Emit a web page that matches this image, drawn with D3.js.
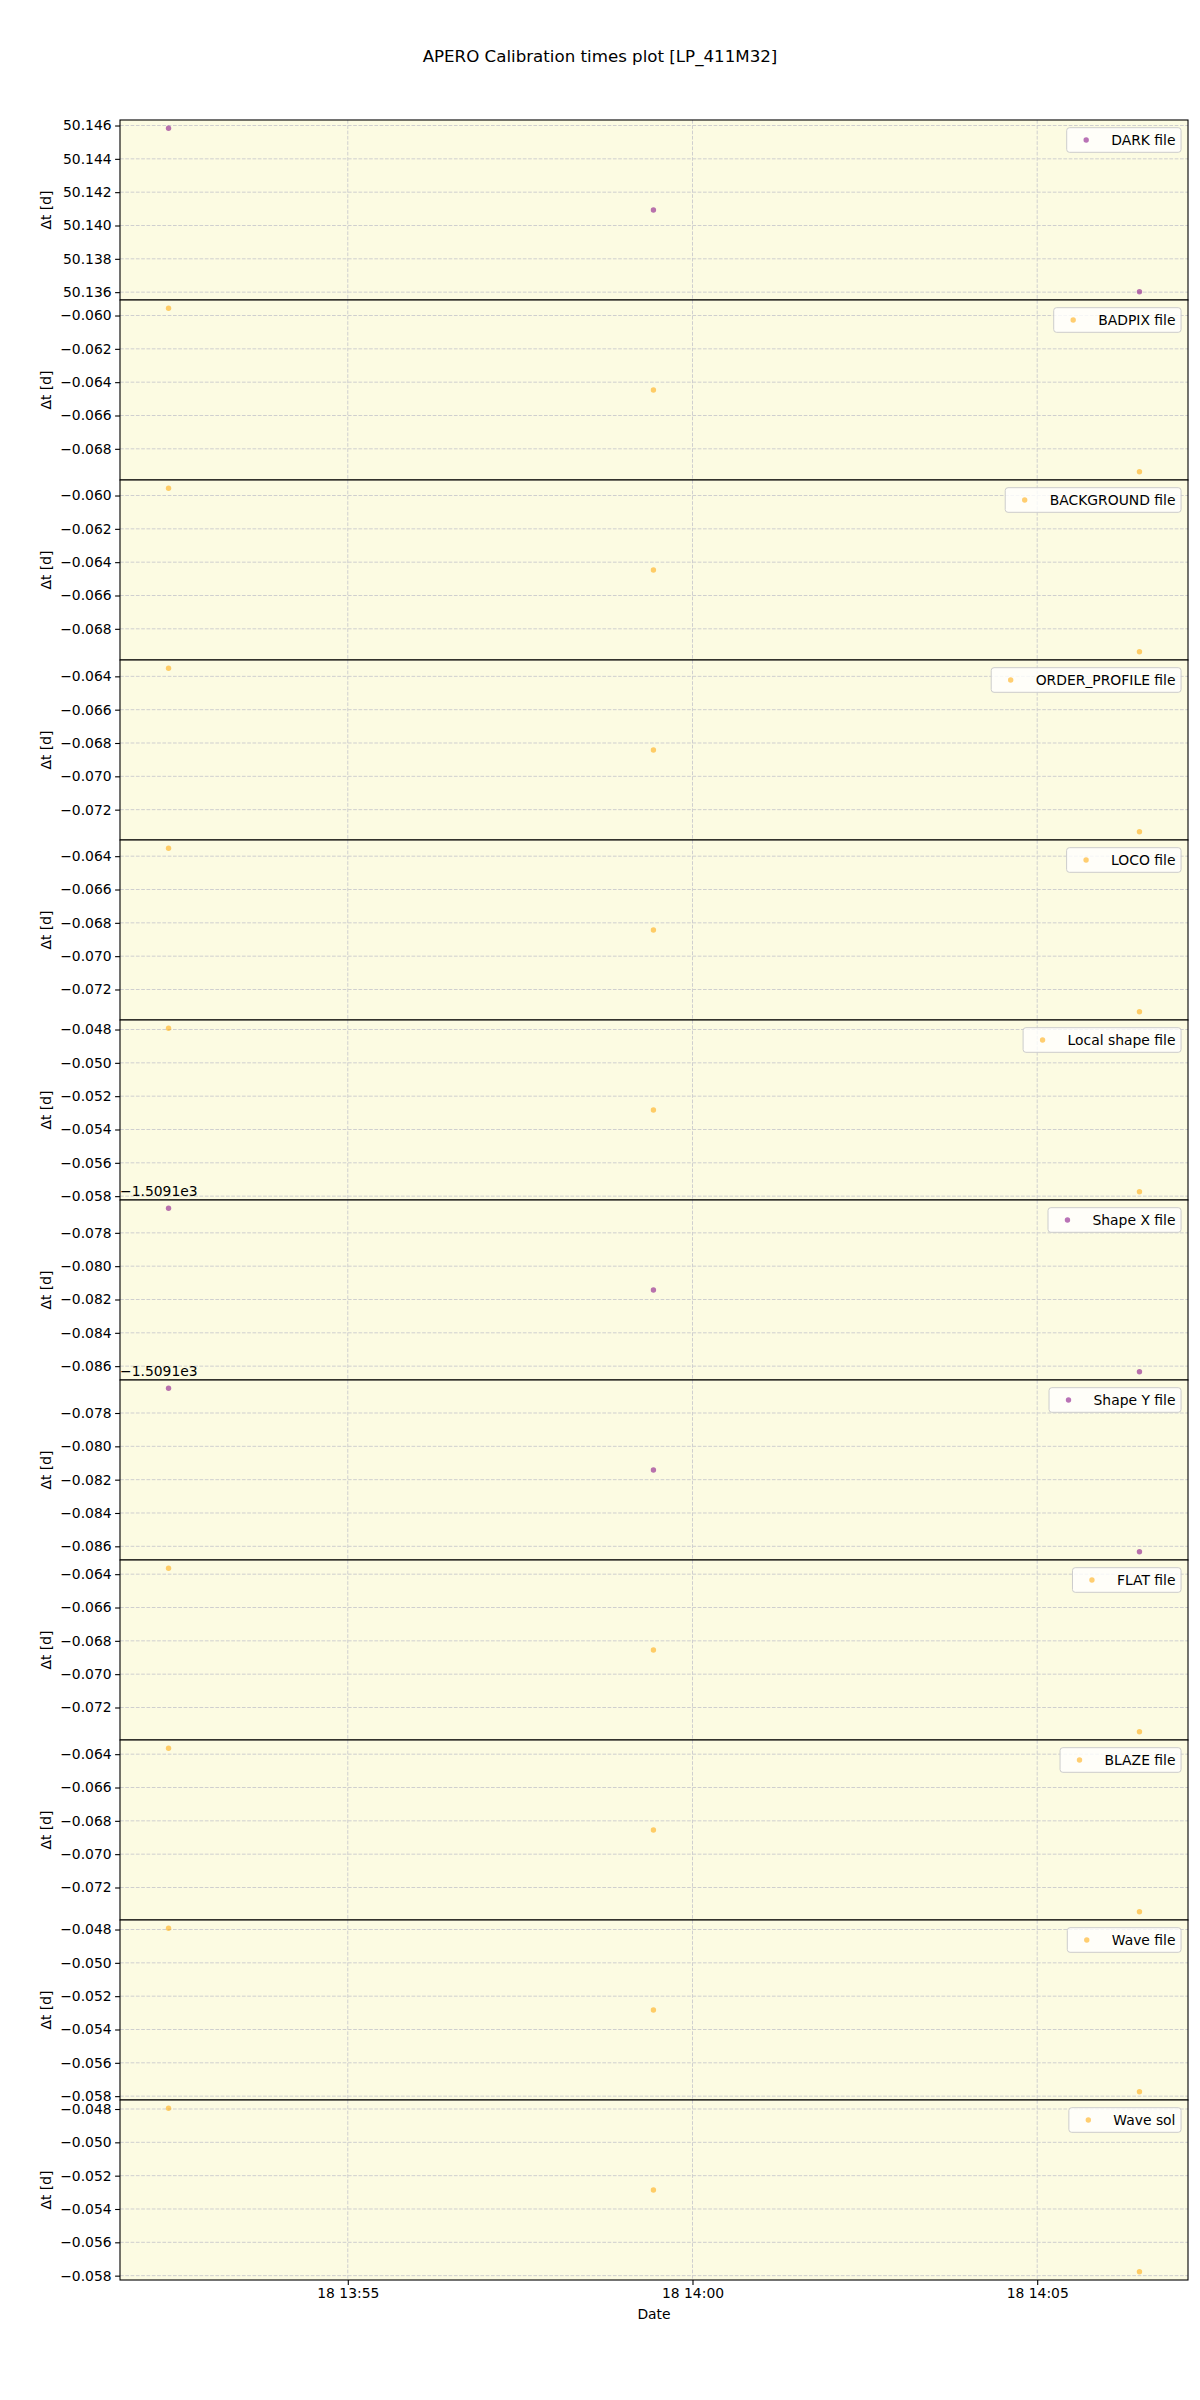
<!DOCTYPE html>
<html><head><meta charset="utf-8">
<script src="https://cdn.jsdelivr.net/npm/d3@7"></script>
<style>
body{margin:0;background:#fff}
text{font-family:"DejaVu Sans",sans-serif}
</style>
</head><body>
<svg id="c" width="1200" height="2400"></svg>
<script>
// ---------- data ----------
const obsTimes = ["2022-05-18T13:52:24Z", "2022-05-18T13:59:26Z", "2022-05-18T14:06:29Z"];
const fileNames = ["DARK file", "BADPIX file", "BACKGROUND file", "ORDER_PROFILE file", "LOCO file",
  "Local shape file", "Shape X file", "Shape Y file", "FLAT file", "BLAZE file", "Wave file", "Wave sol"];
const markerColors = ["purple", "orange", "orange", "orange", "orange", "orange",
  "purple", "purple", "orange", "orange", "orange", "orange"];
const darkDt       = [50.14584, 50.14093, 50.13602];
const badpixDt     = [-0.05956, -0.06447, -0.06938];
const backgroundDt = [-0.05956, -0.06447, -0.06938];
const orderProfDt  = [-0.06351, -0.06842, -0.07333];
const locoDt       = [-0.06352, -0.06843, -0.07334];
const localShapeDt = [-0.04792, -0.05283, -0.05774];
const shapeXDt     = [-1509.17652, -1509.18143, -1509.18634];
const shapeYDt     = [-1509.17651, -1509.18142, -1509.18633];
const flatDt       = [-0.06364, -0.06855, -0.07346];
const blazeDt      = [-0.06364, -0.06855, -0.07346];
const waveFileDt   = [-0.04792, -0.05283, -0.05774];
const waveSolDt    = [-0.04795, -0.05286, -0.05777];
const seriesDt = [darkDt, badpixDt, backgroundDt, orderProfDt, locoDt, localShapeDt,
  shapeXDt, shapeYDt, flatDt, blazeDt, waveFileDt, waveSolDt];
const axisOffsets = [0, 0, 0, 0, 0, 0, -1509.1, -1509.1, 0, 0, 0, 0];
const offsetLabels = ["", "", "", "", "", "", "\u22121.5091e3", "\u22121.5091e3", "", "", "", ""];
const titleText = "APERO Calibration times plot [LP_411M32]";
const yLabelText = "\u0394t [d]";
const xLabelText = "Date";

// ---------- layout ----------
const W = 1200;
const plotLeft = 120, plotRight = 1188, plotTop = 120, panelH = 180;
const fs = 13.9;
const bg = "#fcfbe2";
const gridColor = "#cfcfcf";

const svg = d3.select("#c");
const times = obsTimes.map(t => new Date(t));

const tExt = d3.extent(times);
const tPad = (tExt[1] - tExt[0]) * 0.05;
const x = d3.scaleUtc()
  .domain([new Date(+tExt[0] - tPad), new Date(+tExt[1] + tPad)])
  .range([plotLeft, plotRight]);
const xTicks = x.ticks(d3.utcMinute.every(5));
const fmtY = d3.format(".3f");

svg.append("text")
  .attr("x", W / 2).attr("y", 61.5)
  .attr("text-anchor", "middle")
  .attr("font-size", 16.67)
  .text(titleText);

seriesDt.forEach((vals, i) => {
  const off = axisOffsets[i];
  const v = vals.map(d => d - off);
  const ext = d3.extent(v);
  const pad = (ext[1] - ext[0]) * 0.05;
  const y0 = plotTop + i * panelH;
  const y = d3.scaleLinear()
    .domain([ext[0] - pad, ext[1] + pad])
    .range([y0 + panelH, y0]);
  const yTicks = y.ticks(5);

  const g = svg.append("g");
  g.append("rect").attr("x", plotLeft).attr("y", y0)
    .attr("width", plotRight - plotLeft).attr("height", panelH)
    .attr("fill", bg);

  // grid
  g.selectAll(".gy").data(yTicks).join("line")
    .attr("x1", plotLeft).attr("x2", plotRight)
    .attr("y1", d => y(d)).attr("y2", d => y(d))
    .attr("stroke", gridColor).attr("stroke-width", 1)
    .attr("stroke-dasharray", "3.7,1.6");
  g.selectAll(".gx").data(xTicks).join("line")
    .attr("x1", d => x(d)).attr("x2", d => x(d))
    .attr("y1", y0).attr("y2", y0 + panelH)
    .attr("stroke", gridColor).attr("stroke-width", 1)
    .attr("stroke-dasharray", "3.7,1.6");

  // points
  g.selectAll(".pt").data(v).join("circle")
    .attr("cx", (d, j) => x(times[j]))
    .attr("cy", d => y(d))
    .attr("r", 2.7)
    .attr("fill", markerColors[i])
    .attr("fill-opacity", 0.55);

  // spine
  g.append("rect").attr("x", plotLeft).attr("y", y0)
    .attr("width", plotRight - plotLeft).attr("height", panelH)
    .attr("fill", "none").attr("stroke", "#000").attr("stroke-width", 1.1);

  // y axis
  const ax = g.append("g").attr("transform", `translate(${plotLeft},0)`)
    .call(d3.axisLeft(y).tickValues(yTicks).tickFormat(fmtY).tickSize(4.9).tickPadding(3.5));
  ax.select(".domain").remove();
  ax.selectAll(".tick line").attr("stroke", "#000").attr("stroke-width", 1.1);
  ax.selectAll(".tick text").attr("font-size", fs).attr("fill", "#000")
    .attr("font-family", "DejaVu Sans");

  // y label
  g.append("text")
    .attr("transform", `translate(46,${y0 + panelH / 2}) rotate(-90)`)
    .attr("text-anchor", "middle")
    .attr("dy", "0.35em")
    .attr("font-size", fs)
    .text(yLabelText);

  // offset text
  if (offsetLabels[i]) {
    g.append("text").attr("x", plotLeft).attr("y", y0 - 4)
      .attr("font-size", fs).text(offsetLabels[i]);
  }

  // legend
  const lg = g.append("g");
  const lt = lg.append("text").attr("font-size", fs).text(fileNames[i]);
  const tw = lt.node().getComputedTextLength();
  const bp = 0.4 * fs, hl = 2.0 * fs, htp = 0.8 * fs;
  const bw = bp + hl + htp + tw + bp;
  const bh = 24.6;
  const bx = plotRight - 0.5 * fs - bw;
  const by = y0 + 7.7;
  lg.insert("rect", "text").attr("x", bx).attr("y", by)
    .attr("width", bw).attr("height", bh).attr("rx", 2.8)
    .attr("fill", "#fff").attr("fill-opacity", 0.8)
    .attr("stroke", "#cccccc").attr("stroke-width", 1);
  lg.append("circle").attr("cx", bx + bp + hl / 2).attr("cy", by + bh / 2)
    .attr("r", 2.7).attr("fill", markerColors[i]).attr("fill-opacity", 0.55);
  lt.attr("x", bx + bp + hl + htp).attr("y", by + bh / 2).attr("dy", "0.36em");
});

// x axis on last panel
const yBottom = plotTop + seriesDt.length * panelH;
const xa = svg.append("g").attr("transform", `translate(0,${yBottom})`)
  .call(d3.axisBottom(x).tickValues(xTicks).tickFormat(d3.utcFormat("%d %H:%M")).tickSize(4.9).tickPadding(3.5));
xa.select(".domain").remove();
xa.selectAll(".tick line").attr("stroke", "#000").attr("stroke-width", 1.1);
xa.selectAll(".tick text").attr("font-size", fs).attr("fill", "#000").attr("font-family", "DejaVu Sans");

svg.append("text")
  .attr("x", (plotLeft + plotRight) / 2).attr("y", yBottom + 39)
  .attr("text-anchor", "middle")
  .attr("font-size", fs)
  .text(xLabelText);
</script>
</body></html>
